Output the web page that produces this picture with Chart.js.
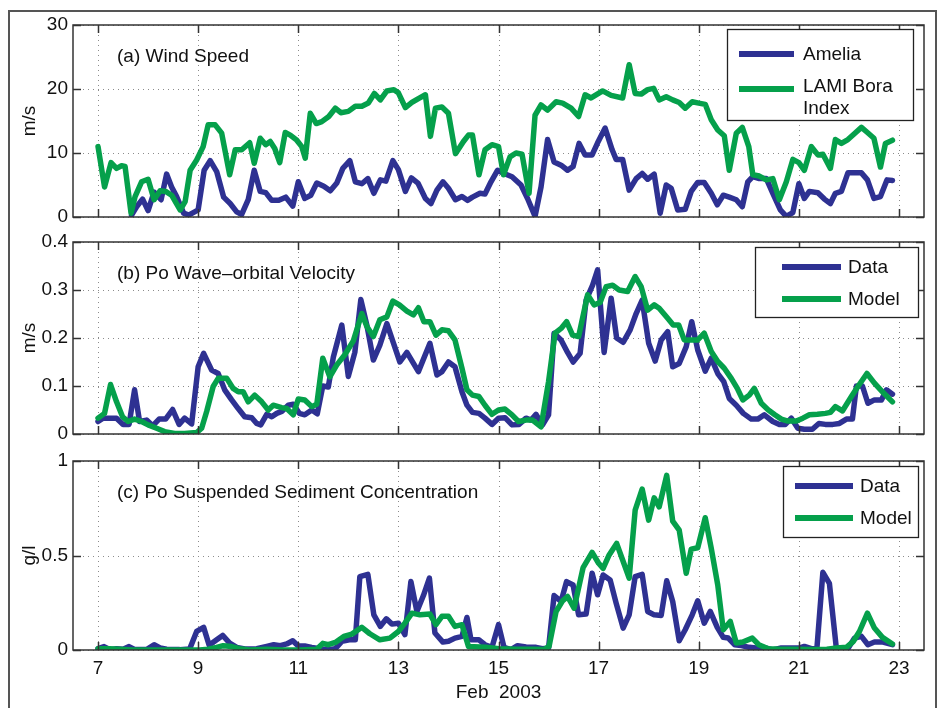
<!DOCTYPE html>
<html>
<head>
<meta charset="utf-8">
<script src="https://cdn.jsdelivr.net/npm/chart.js@4.4.1/dist/chart.umd.min.js"></script>
<style>
  body { margin: 0; background: #fff; }
  #wrap { position: relative; width: 938px; height: 708px; overflow: hidden; background: #fff; }
  #frame { position: absolute; left: 8px; top: 10px; width: 925px; height: 760px; border: 2px solid #555; }
  canvas { position: absolute; left: 0; }
</style>
</head>
<body>
<div id="wrap">
  <div id="frame"></div>
  <canvas id="windChart" width="938" height="230" style="top:0"></canvas>
  <canvas id="velChart" width="938" height="215" style="top:230px"></canvas>
  <canvas id="sedChart" width="938" height="263" style="top:445px"></canvas>
</div>
<script>
// day of February 2003 -> value
const xTicks = [7, 9, 11, 13, 15, 17, 19, 21, 23];

const windAmelia = [
  [7.67, 0.3], [7.77, 1.6], [7.89, 2.8], [8.00, 1.0], [8.12, 3.9], [8.26, 2.7], [8.37, 6.7], [8.47, 4.7],
  [8.57, 3.2], [8.71, 0.6], [8.81, 0.3], [8.93, 0.8], [9.00, 1.1], [9.12, 7.3], [9.24, 8.8], [9.37, 7.1],
  [9.51, 3.1], [9.64, 2.1], [9.77, 0.8], [9.87, 0.4], [10.00, 2.7], [10.12, 7.3], [10.24, 4.0], [10.35, 3.8],
  [10.47, 2.6], [10.61, 2.6], [10.75, 3.1], [10.89, 1.7], [11.00, 5.5], [11.13, 2.9], [11.25, 3.4], [11.37, 5.3],
  [11.51, 4.8], [11.64, 4.1], [11.77, 5.3], [11.89, 7.6], [12.03, 8.8], [12.14, 5.5], [12.27, 5.2], [12.39, 6.0],
  [12.51, 3.7], [12.64, 5.8], [12.75, 5.6], [12.89, 8.8], [13.00, 7.4], [13.14, 4.0], [13.26, 6.1], [13.39, 5.3],
  [13.54, 2.9], [13.65, 2.1], [13.77, 4.2], [13.89, 5.5], [14.00, 4.5], [14.14, 2.7], [14.27, 3.2], [14.38, 2.6],
  [14.48, 3.1], [14.63, 3.7], [14.73, 3.6], [14.85, 5.5], [14.98, 7.3], [15.11, 6.8], [15.27, 6.3], [15.45, 5.0],
  [15.58, 2.9], [15.73, 0.1], [15.85, 4.7], [15.98, 12.1], [16.11, 8.6], [16.25, 8.1], [16.38, 7.3], [16.49, 7.9],
  [16.61, 11.5], [16.73, 9.7], [16.87, 9.7], [16.98, 11.6], [17.13, 13.9], [17.27, 10.5], [17.35, 9.0], [17.48, 9.0],
  [17.61, 4.2], [17.75, 6.0], [17.87, 6.8], [17.98, 5.9], [18.11, 6.7], [18.23, 0.6], [18.35, 5.0], [18.45, 4.5],
  [18.58, 1.1], [18.73, 1.2], [18.85, 4.0], [18.98, 5.4], [19.11, 5.4], [19.25, 3.7], [19.37, 1.9], [19.49, 3.4],
  [19.61, 3.1], [19.75, 2.7], [19.87, 1.6], [19.98, 5.5], [20.08, 6.3], [20.21, 6.0], [20.35, 6.0], [20.48, 3.7],
  [20.63, 1.1], [20.75, 0.1], [20.88, 0.7], [21.00, 5.2], [21.11, 2.9], [21.21, 4.0], [21.38, 3.8], [21.51, 2.8],
  [21.63, 2.1], [21.73, 3.7], [21.85, 4.0], [21.98, 6.9], [22.12, 6.9], [22.25, 6.9], [22.37, 5.8], [22.50, 2.9],
  [22.63, 3.2], [22.76, 5.8], [22.87, 5.7]
];

const windBora = [
  [7.00, 11.0], [7.13, 4.7], [7.26, 8.5], [7.37, 7.6], [7.47, 8.0], [7.54, 7.9], [7.66, 0.6], [7.74, 3.2],
  [7.87, 5.5], [8.00, 5.9], [8.12, 2.7], [8.24, 4.1], [8.35, 4.0], [8.47, 3.4], [8.64, 1.1], [8.74, 2.4],
  [8.84, 7.3], [8.97, 8.9], [9.10, 11.0], [9.20, 14.4], [9.34, 14.4], [9.47, 13.1], [9.63, 6.6], [9.74, 10.5],
  [9.87, 10.5], [10.03, 11.6], [10.12, 8.4], [10.24, 12.3], [10.35, 11.3], [10.44, 11.8], [10.53, 10.7], [10.63, 8.5],
  [10.74, 13.2], [10.84, 12.8], [10.97, 12.0], [11.07, 11.0], [11.14, 9.2], [11.24, 16.2], [11.36, 14.6], [11.47, 14.9],
  [11.61, 15.7], [11.74, 17.0], [11.85, 16.3], [12.00, 16.5], [12.14, 17.3], [12.27, 17.3], [12.40, 17.8], [12.52, 19.3],
  [12.64, 18.3], [12.77, 19.7], [12.91, 19.9], [13.00, 19.4], [13.14, 17.1], [13.27, 17.9], [13.40, 18.5], [13.54, 19.1],
  [13.64, 12.6], [13.74, 17.0], [13.87, 17.2], [14.00, 16.2], [14.14, 9.9], [14.30, 11.8], [14.40, 12.8], [14.48, 12.8],
  [14.61, 6.6], [14.73, 10.5], [14.87, 11.3], [15.00, 11.0], [15.10, 6.6], [15.23, 9.4], [15.35, 10.0], [15.47, 9.8],
  [15.61, 3.7], [15.73, 15.9], [15.85, 17.5], [15.98, 16.7], [16.15, 18.0], [16.28, 17.8], [16.45, 17.0], [16.60, 15.7],
  [16.73, 19.1], [16.85, 18.6], [17.08, 19.7], [17.25, 19.0], [17.48, 18.6], [17.61, 23.8], [17.73, 19.3], [17.85, 19.2],
  [17.98, 19.9], [18.10, 20.1], [18.21, 18.3], [18.35, 18.8], [18.48, 18.3], [18.61, 17.9], [18.73, 17.0], [18.87, 18.0],
  [19.00, 17.8], [19.13, 17.6], [19.25, 15.2], [19.38, 13.6], [19.51, 12.7], [19.61, 7.3], [19.75, 13.1], [19.87, 14.0],
  [20.00, 11.0], [20.08, 6.6], [20.21, 6.4], [20.35, 5.8], [20.48, 6.0], [20.61, 2.7], [20.75, 5.5], [20.88, 9.0],
  [21.00, 8.5], [21.11, 7.3], [21.25, 11.0], [21.38, 9.7], [21.48, 9.8], [21.63, 7.6], [21.73, 12.1], [21.85, 11.5],
  [21.98, 12.1], [22.12, 13.1], [22.25, 14.0], [22.37, 13.2], [22.50, 12.3], [22.63, 7.8], [22.73, 11.5], [22.87, 12.0]
];

const velData = [
  [7.00, 0.026], [7.10, 0.033], [7.23, 0.033], [7.37, 0.033], [7.50, 0.020], [7.62, 0.020], [7.73, 0.092], [7.83, 0.026],
  [7.97, 0.029], [8.09, 0.017], [8.22, 0.031], [8.35, 0.031], [8.49, 0.051], [8.62, 0.020], [8.73, 0.033], [8.87, 0.021],
  [9.00, 0.140], [9.11, 0.168], [9.27, 0.133], [9.40, 0.126], [9.53, 0.092], [9.67, 0.071], [9.80, 0.053], [9.93, 0.036],
  [10.07, 0.034], [10.17, 0.022], [10.25, 0.019], [10.37, 0.041], [10.47, 0.036], [10.57, 0.043], [10.67, 0.047], [10.80, 0.060],
  [10.90, 0.062], [11.02, 0.043], [11.13, 0.040], [11.27, 0.050], [11.38, 0.042], [11.49, 0.100], [11.60, 0.098], [11.70, 0.160],
  [11.87, 0.227], [12.00, 0.120], [12.13, 0.170], [12.25, 0.280], [12.37, 0.227], [12.50, 0.154], [12.63, 0.185], [12.77, 0.230],
  [12.90, 0.190], [13.03, 0.150], [13.17, 0.170], [13.40, 0.130], [13.63, 0.189], [13.77, 0.123], [13.87, 0.130], [14.00, 0.150],
  [14.13, 0.140], [14.27, 0.088], [14.37, 0.060], [14.48, 0.045], [14.61, 0.043], [14.73, 0.033], [14.87, 0.020], [15.00, 0.033],
  [15.13, 0.034], [15.27, 0.019], [15.41, 0.020], [15.55, 0.033], [15.65, 0.029], [15.75, 0.041], [15.88, 0.019], [16.00, 0.040],
  [16.11, 0.210], [16.25, 0.196], [16.38, 0.170], [16.49, 0.150], [16.63, 0.168], [16.75, 0.279], [16.88, 0.310], [16.98, 0.342],
  [17.11, 0.170], [17.25, 0.283], [17.36, 0.200], [17.49, 0.191], [17.63, 0.217], [17.75, 0.251], [17.87, 0.279], [18.00, 0.189],
  [18.13, 0.152], [18.25, 0.196], [18.38, 0.213], [18.48, 0.140], [18.61, 0.147], [18.75, 0.182], [18.86, 0.234], [18.98, 0.175],
  [19.13, 0.131], [19.25, 0.158], [19.38, 0.126], [19.50, 0.109], [19.61, 0.074], [19.75, 0.060], [19.89, 0.043], [20.05, 0.031],
  [20.18, 0.031], [20.31, 0.040], [20.48, 0.026], [20.61, 0.020], [20.73, 0.020], [20.85, 0.033], [20.98, 0.012], [21.11, 0.010],
  [21.27, 0.010], [21.40, 0.022], [21.53, 0.020], [21.68, 0.020], [21.81, 0.022], [21.95, 0.031], [22.07, 0.031], [22.15, 0.100],
  [22.27, 0.100], [22.38, 0.064], [22.51, 0.071], [22.65, 0.071], [22.75, 0.092], [22.87, 0.083]
];

const velModel = [
  [7.00, 0.033], [7.13, 0.043], [7.25, 0.103], [7.37, 0.067], [7.49, 0.036], [7.60, 0.026], [7.73, 0.031], [7.87, 0.026],
  [8.00, 0.019], [8.17, 0.012], [8.33, 0.005], [8.53, 0.001], [8.73, 0.001], [8.97, 0.003], [9.07, 0.012], [9.17, 0.047],
  [9.30, 0.099], [9.40, 0.116], [9.57, 0.116], [9.70, 0.095], [9.80, 0.088], [9.90, 0.088], [10.00, 0.067], [10.13, 0.081],
  [10.27, 0.067], [10.40, 0.050], [10.50, 0.060], [10.67, 0.055], [10.77, 0.053], [10.90, 0.040], [11.00, 0.073], [11.13, 0.071],
  [11.27, 0.057], [11.37, 0.062], [11.49, 0.158], [11.63, 0.119], [11.77, 0.144], [11.93, 0.165], [12.10, 0.194], [12.27, 0.251],
  [12.37, 0.224], [12.50, 0.203], [12.63, 0.238], [12.77, 0.244], [12.89, 0.277], [13.02, 0.269], [13.17, 0.256], [13.30, 0.248],
  [13.40, 0.263], [13.51, 0.234], [13.63, 0.234], [13.75, 0.206], [13.87, 0.217], [14.00, 0.215], [14.13, 0.196], [14.27, 0.137],
  [14.37, 0.092], [14.48, 0.081], [14.61, 0.078], [14.73, 0.060], [14.87, 0.041], [15.00, 0.050], [15.13, 0.052], [15.27, 0.040],
  [15.40, 0.026], [15.55, 0.029], [15.68, 0.029], [15.85, 0.015], [16.00, 0.109], [16.13, 0.210], [16.25, 0.220], [16.36, 0.234],
  [16.48, 0.206], [16.60, 0.203], [16.78, 0.290], [16.91, 0.269], [17.03, 0.274], [17.15, 0.307], [17.28, 0.310], [17.41, 0.300],
  [17.58, 0.297], [17.73, 0.328], [17.85, 0.307], [17.98, 0.258], [18.11, 0.269], [18.21, 0.262], [18.38, 0.241], [18.49, 0.227],
  [18.60, 0.227], [18.71, 0.196], [18.85, 0.196], [18.98, 0.196], [19.11, 0.210], [19.25, 0.172], [19.38, 0.151], [19.51, 0.137],
  [19.65, 0.116], [19.77, 0.095], [19.88, 0.071], [20.01, 0.081], [20.11, 0.095], [20.25, 0.064], [20.39, 0.050], [20.52, 0.040],
  [20.65, 0.031], [20.78, 0.027], [20.95, 0.027], [21.08, 0.033], [21.21, 0.040], [21.37, 0.041], [21.53, 0.043], [21.63, 0.045],
  [21.73, 0.057], [21.87, 0.048], [22.05, 0.078], [22.18, 0.099], [22.36, 0.126], [22.51, 0.106], [22.67, 0.088], [22.87, 0.067]
];

const sedData = [
  [7.00, 0.007], [7.12, 0.018], [7.25, 0.000], [7.37, 0.007], [7.50, 0.004], [7.62, 0.018], [7.74, 0.002], [7.97, 0.002],
  [8.12, 0.028], [8.24, 0.011], [8.37, 0.004], [8.63, 0.002], [8.83, 0.005], [8.97, 0.098], [9.11, 0.120], [9.22, 0.025],
  [9.37, 0.054], [9.49, 0.077], [9.63, 0.037], [9.77, 0.014], [9.93, 0.005], [10.17, 0.007], [10.37, 0.019], [10.51, 0.028],
  [10.64, 0.023], [10.77, 0.032], [10.89, 0.049], [11.00, 0.021], [11.13, 0.021], [11.27, 0.014], [11.43, 0.007], [11.60, 0.002],
  [11.74, 0.007], [11.87, 0.046], [12.02, 0.054], [12.14, 0.054], [12.23, 0.388], [12.39, 0.400], [12.51, 0.186], [12.64, 0.125],
  [12.76, 0.165], [12.87, 0.137], [13.00, 0.142], [13.13, 0.081], [13.25, 0.362], [13.37, 0.204], [13.50, 0.288], [13.62, 0.380],
  [13.73, 0.090], [13.89, 0.042], [14.00, 0.046], [14.13, 0.063], [14.27, 0.072], [14.37, 0.172], [14.45, 0.054], [14.61, 0.054],
  [14.73, 0.028], [14.87, 0.014], [15.00, 0.134], [15.11, 0.014], [15.25, 0.002], [15.38, 0.023], [15.55, 0.016], [15.75, 0.014],
  [15.88, 0.007], [16.00, 0.011], [16.11, 0.288], [16.25, 0.257], [16.36, 0.362], [16.49, 0.344], [16.60, 0.186], [16.75, 0.190],
  [16.87, 0.406], [16.98, 0.292], [17.09, 0.397], [17.23, 0.371], [17.35, 0.248], [17.49, 0.116], [17.61, 0.186], [17.73, 0.388],
  [17.87, 0.400], [17.98, 0.204], [18.11, 0.186], [18.25, 0.183], [18.36, 0.366], [18.48, 0.257], [18.61, 0.049], [18.73, 0.107],
  [18.87, 0.186], [18.98, 0.260], [19.11, 0.142], [19.23, 0.204], [19.37, 0.120], [19.49, 0.067], [19.59, 0.063], [19.72, 0.028],
  [19.85, 0.023], [20.01, 0.014], [20.15, 0.011], [20.29, 0.014], [20.48, 0.000], [20.65, 0.011], [20.89, 0.011], [21.02, 0.011],
  [21.11, 0.019], [21.25, 0.007], [21.36, 0.007], [21.48, 0.411], [21.61, 0.353], [21.75, 0.007], [21.87, 0.011], [21.98, 0.007],
  [22.11, 0.063], [22.25, 0.072], [22.38, 0.028], [22.51, 0.042], [22.68, 0.042], [22.87, 0.028]
];

const sedModel = [
  [7.00, 0.007], [7.23, 0.007], [7.43, 0.004], [7.70, 0.000], [8.04, 0.000], [8.37, 0.000], [8.71, 0.000], [9.03, 0.000],
  [9.20, 0.004], [9.37, 0.014], [9.50, 0.023], [9.67, 0.018], [9.83, 0.007], [10.03, 0.000], [10.37, 0.004], [10.71, 0.000],
  [11.04, 0.000], [11.37, 0.004], [11.49, 0.035], [11.60, 0.028], [11.74, 0.040], [11.91, 0.072], [12.07, 0.084], [12.27, 0.120],
  [12.43, 0.086], [12.63, 0.054], [12.83, 0.063], [13.00, 0.098], [13.13, 0.142], [13.27, 0.195], [13.43, 0.186], [13.63, 0.190],
  [13.75, 0.134], [13.87, 0.178], [14.00, 0.178], [14.13, 0.125], [14.27, 0.134], [14.40, 0.019], [14.75, 0.014], [15.01, 0.007],
  [15.35, 0.004], [15.68, 0.004], [15.91, 0.002], [16.01, 0.019], [16.15, 0.204], [16.28, 0.260], [16.38, 0.283], [16.51, 0.221],
  [16.69, 0.436], [16.87, 0.517], [17.00, 0.459], [17.09, 0.432], [17.21, 0.503], [17.36, 0.564], [17.48, 0.476], [17.61, 0.380],
  [17.73, 0.740], [17.87, 0.851], [18.00, 0.687], [18.11, 0.805], [18.21, 0.757], [18.36, 0.924], [18.48, 0.682], [18.61, 0.634],
  [18.75, 0.406], [18.85, 0.534], [18.98, 0.541], [19.13, 0.700], [19.25, 0.538], [19.38, 0.344], [19.49, 0.107], [19.63, 0.151],
  [19.75, 0.037], [19.88, 0.042], [20.07, 0.063], [20.20, 0.028], [20.39, 0.007], [20.63, 0.004], [20.89, 0.004], [21.23, 0.002],
  [21.56, 0.004], [21.76, 0.011], [21.95, 0.014], [22.09, 0.046], [22.21, 0.098], [22.37, 0.195], [22.51, 0.116], [22.67, 0.067],
  [22.87, 0.032]
];

const BLUE = "#2e3192";
const GREEN = "#05a04b";
const FONT = '"Liberation Sans", Arial, Helvetica, sans-serif';

Chart.defaults.font.family = FONT;
Chart.defaults.font.size = 19;
Chart.defaults.color = "#111";

const toXY = (rows) => rows.map(([x, y]) => ({ x, y }));

// matlab-like axes: dotted grid, inward ticks, box, title, legend
const matlabAxes = {
  id: "matlabAxes",
  beforeDatasetsDraw(chart) {
    const { ctx, chartArea: a, scales: { x, y } } = chart;
    ctx.save();
    ctx.strokeStyle = "#8c8c8c";
    ctx.lineWidth = 1;
    ctx.setLineDash([1, 4]);
    ctx.beginPath();
    xTicks.forEach((v) => {
      const px = Math.round(x.getPixelForValue(v)) + 0.5;
      ctx.moveTo(px, a.top);
      ctx.lineTo(px, a.bottom);
    });
    y.ticks.forEach((t) => {
      const py = Math.round(y.getPixelForValue(t.value)) + 0.5;
      ctx.moveTo(a.left, py);
      ctx.lineTo(a.right, py);
    });
    ctx.stroke();
    ctx.restore();
  },
  afterDatasetsDraw(chart, args, opts) {
    const { ctx, chartArea: a, scales: { x, y } } = chart;
    const tick = 8;
    ctx.save();
    ctx.strokeStyle = "#333";
    ctx.lineWidth = 1.5;
    ctx.beginPath();
    xTicks.forEach((v) => {
      const px = Math.round(x.getPixelForValue(v)) + 0.5;
      ctx.moveTo(px, a.bottom);
      ctx.lineTo(px, a.bottom - tick);
      ctx.moveTo(px, a.top);
      ctx.lineTo(px, a.top + tick);
    });
    y.ticks.forEach((t) => {
      const py = Math.round(y.getPixelForValue(t.value)) + 0.5;
      ctx.moveTo(a.left, py);
      ctx.lineTo(a.left + tick, py);
      ctx.moveTo(a.right, py);
      ctx.lineTo(a.right - tick, py);
    });
    ctx.stroke();
    ctx.strokeRect(a.left, a.top, a.right - a.left, a.bottom - a.top);

    ctx.fillStyle = "#111";
    ctx.font = "19px " + FONT;
    ctx.textBaseline = "alphabetic";
    ctx.fillText(opts.title, a.left + 44, a.top + 37);

    const lg = opts.legend;
    const bx = a.right + lg.dx;
    const by = a.top + lg.dy;
    ctx.fillStyle = "#fff";
    ctx.fillRect(bx, by, lg.w, lg.h);
    ctx.strokeStyle = "#222";
    ctx.lineWidth = 1.3;
    ctx.strokeRect(bx + 0.5, by + 0.5, lg.w, lg.h);
    chart.data.datasets.forEach((ds, i) => {
      const ry = by + lg.rows[i];
      ctx.strokeStyle = ds.borderColor;
      ctx.lineWidth = 6;
      ctx.beginPath();
      ctx.moveTo(bx + lg.line[0], ry);
      ctx.lineTo(bx + lg.line[1], ry);
      ctx.stroke();
      ctx.fillStyle = "#111";
      const lines = ds.label.split("\n");
      lines.forEach((txt, k) => {
        const dy = lines.length > 1 ? 3 + 22 * k : 6;
        ctx.fillText(txt, bx + lg.text, ry + dy);
      });
    });
    ctx.restore();
  },
};

function lineSet(label, rows, color, order) {
  return {
    label,
    data: toXY(rows),
    borderColor: color,
    backgroundColor: color,
    borderWidth: 5.5,
    pointRadius: 0,
    tension: 0,
    borderJoinStyle: "round",
    borderCapStyle: "round",
    order,
  };
}

function makeChart(id, cfg) {
  const xScale = {
    type: "linear",
    min: 6.5,
    max: 23.5,
    display: cfg.showX,
    afterBuildTicks: (axis) => {
      axis.ticks = xTicks.map((v) => ({ value: v }));
    },
    grid: { display: false, drawTicks: false },
    border: { display: false },
    ticks: { padding: 7, maxRotation: 0, autoSkip: false, color: "#111" },
    title: { display: cfg.showX, text: "Feb  2003", padding: { top: 0, bottom: 4 }, color: "#111" },
  };
  if (cfg.showX) {
    xScale.afterFit = (s) => {
      s.height = 58;
    };
  }
  return new Chart(document.getElementById(id), {
    type: "line",
    data: { datasets: cfg.datasets },
    options: {
      responsive: false,
      animation: false,
      devicePixelRatio: 1,
      layout: { padding: cfg.padding },
      plugins: {
        legend: { display: false },
        tooltip: { enabled: false },
        matlabAxes: { title: cfg.title, legend: cfg.legend },
      },
      scales: {
        x: xScale,
        y: {
          type: "linear",
          min: cfg.yMin,
          max: cfg.yMax,
          grid: { display: false, drawTicks: false },
          border: { display: false },
          ticks: {
            stepSize: cfg.yStep,
            padding: 5,
            color: "#111",
            // small lineHeight keeps the label overhang from shrinking the plot area
            font: { size: 19, lineHeight: 0.5 },
            callback: (v) => String(+v.toFixed(2)),
          },
          title: { display: true, text: cfg.yTitle, padding: { top: 10, bottom: 0 }, color: "#111" },
          afterFit: (s) => {
            s.width = 65;
          },
        },
      },
    },
    plugins: [matlabAxes],
  });
}

makeChart("windChart", {
  datasets: [
    lineSet("Amelia", windAmelia, BLUE, 1),
    lineSet("LAMI Bora\nIndex", windBora, GREEN, 0),
  ],
  yMin: 0, yMax: 30, yStep: 10, yTitle: "m/s",
  title: "(a) Wind Speed",
  showX: false,
  padding: { left: 8, right: 14, top: 25, bottom: 13 },
  legend: { dx: -197, dy: 4, w: 186, h: 91, line: [12, 67], text: 76, rows: [25, 60] },
});

makeChart("velChart", {
  datasets: [
    lineSet("Data", velData, BLUE, 1),
    lineSet("Model", velModel, GREEN, 0),
  ],
  yMin: 0, yMax: 0.4, yStep: 0.1, yTitle: "m/s",
  title: "(b) Po Wave\u2013orbital Velocity",
  showX: false,
  padding: { left: 8, right: 14, top: 12, bottom: 11 },
  legend: { dx: -169, dy: 5, w: 163, h: 70, line: [27, 86], text: 93, rows: [20, 52] },
});

makeChart("sedChart", {
  datasets: [
    lineSet("Data", sedData, BLUE, 1),
    lineSet("Model", sedModel, GREEN, 0),
  ],
  yMin: 0, yMax: 1, yStep: 0.5, yTitle: "g/l",
  title: "(c) Po Suspended Sediment Concentration",
  showX: true,
  padding: { left: 8, right: 14, top: 16, bottom: 0 },
  legend: { dx: -141, dy: 5, w: 135, h: 71, line: [12, 70], text: 77, rows: [20, 52] },
});
</script>
</body>
</html>
